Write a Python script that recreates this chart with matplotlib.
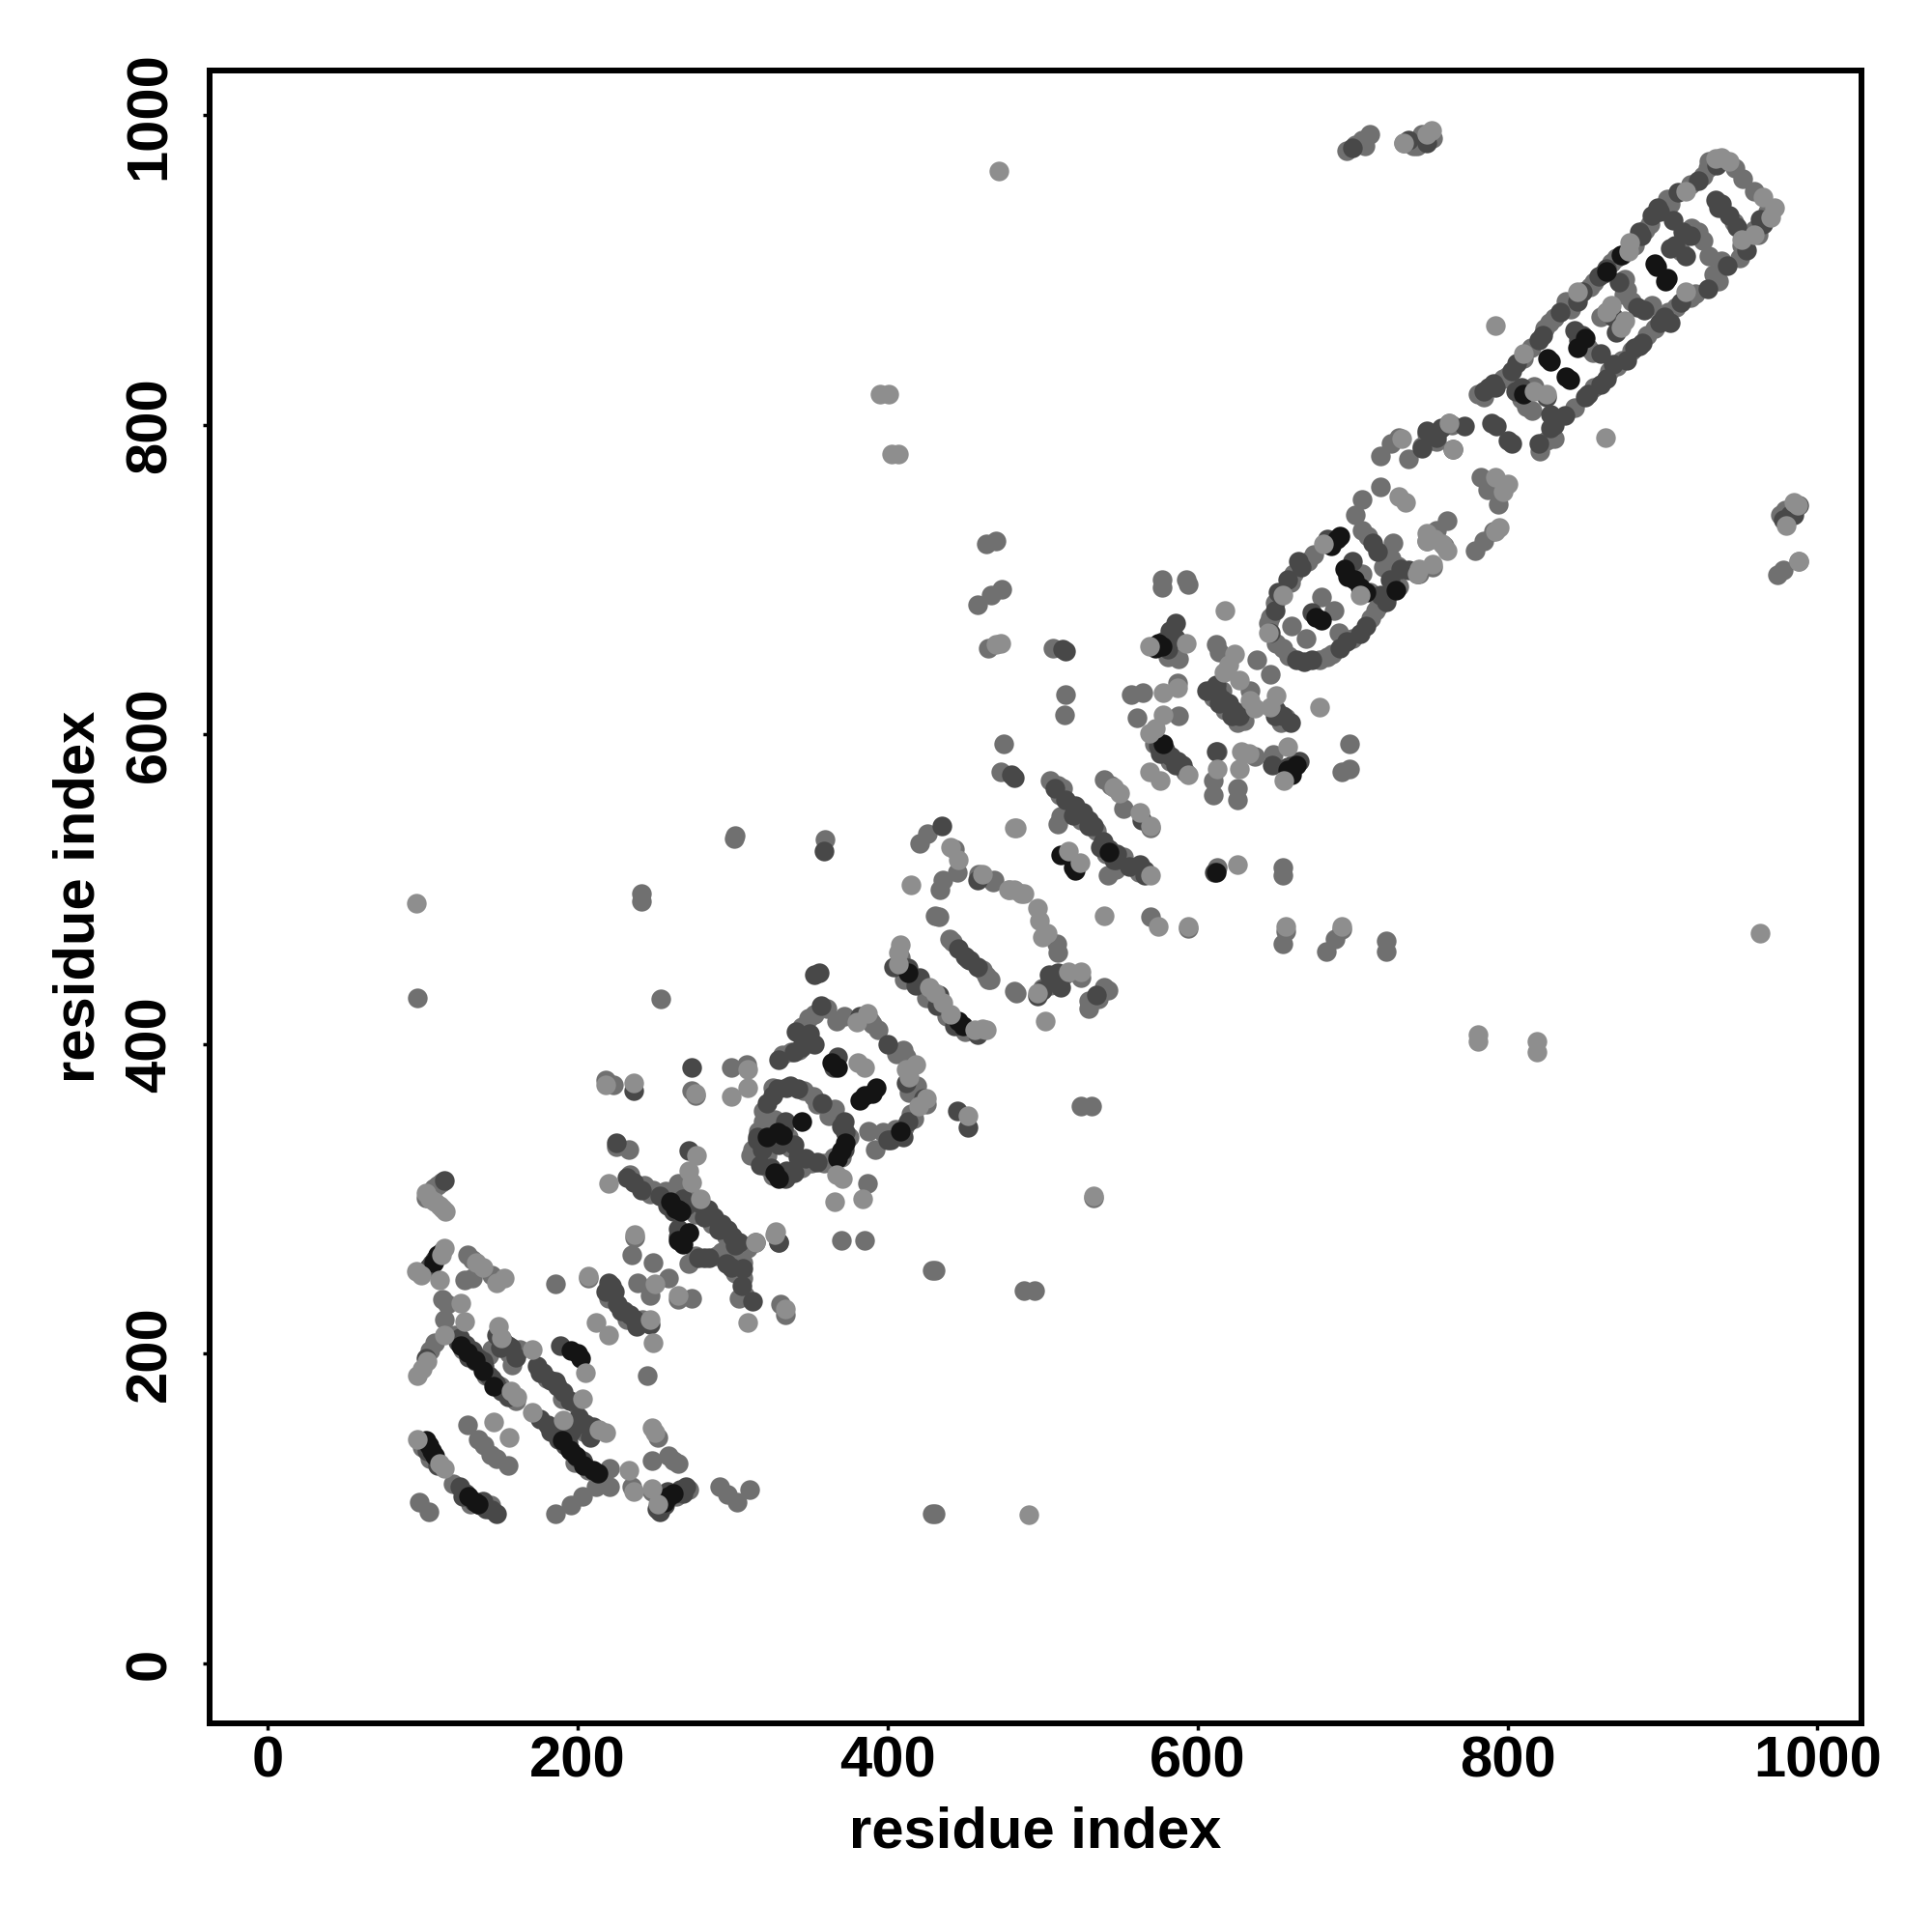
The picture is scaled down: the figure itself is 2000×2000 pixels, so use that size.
import numpy as np
import matplotlib
matplotlib.use('Agg')
import matplotlib.pyplot as plt

# contacts, grouped by grey level
contacts_mid = [
    (112,311),(110,309),(107,307),(104,304),(102,301),(129,264),(132,261),(127,248),(132,249),(145,251),
    (113,235),(116,232),(114,222),(108,207),(105,202),(121,212),(145,203),(143,199),(158,193),(129,154),
    (136,145),(140,141),(144,135),(148,132),(155,128),(98,104),(104,98),(186,97),(196,102),(203,108),
    (212,114),(221,114),(221,126),(235,114),(248,111),(252,146),(259,134),(262,131),(265,129),(248,131),
    (292,114),(297,109),(303,104),(311,112),(186,245),(207,249),(239,246),(249,259),(259,249),(247,238),
    (220,236),(265,235),(237,275),(235,264),(274,236),(245,186),(334,225),(331,232),(225,334),(233,332),
    (249,306),(243,309),(257,305),(265,310),(259,299),(272,278),(276,263),(293,266),(299,261),(307,259),
    (307,249),(308,238),(302,535),(301,533),(360,532),(241,497),(241,492),(254,429),(97,430),(426,536),
    (421,530),(443,526),(445,511),(436,506),(434,500),(433,482),(431,483),(482,434),(469,506),(442,466),
    (461,448),(466,442),(353,419),(361,423),(367,415),(345,411),(343,396),(332,393),(394,409),(390,413),
    (406,394),(412,392),(414,369),(425,361),(415,355),(411,346),(397,343),(388,344),(392,332),(309,387),
    (299,385),(274,370),(276,367),(223,374),(218,377),(352,366),(355,361),(362,354),(370,327),(359,323),
    (351,323),(322,321),(313,332),(317,344),(320,357),(327,351),(336,340),(322,328),(387,310),(370,273),
    (385,273),(464,723),(470,725),(474,694),(467,690),(458,684),(465,656),(507,656),(515,626),(514,613),
    (475,594),(473,576),(577,700),(577,695),(593,700),(594,697),(581,650),(588,649),(587,633),(557,626),
    (565,627),(588,612),(561,611),(613,589),(610,570),(610,561),(626,565),(626,558),(649,587),(637,586),
    (612,658),(614,653),(634,628),(638,648),(647,639),(630,609),(657,611),(698,594),(698,578),(693,576),
    (671,712),(662,704),(650,685),(647,676),(651,659),(659,651),(679,648),(687,652),(661,670),(670,662),
    (688,680),(691,666),(680,689),(717,683),(712,675),(725,714),(729,709),(743,704),(510,567),(513,565),
    (512,547),(510,542),(540,571),(544,567),(552,552),(570,540),(552,521),(542,509),(547,513),(613,514),
    (655,514),(655,509),(459,510),(468,505),(509,465),(510,459),(570,482),(594,475),(655,465),(657,473),
    (693,474),(689,468),(683,460),(722,467),(722,460),(465,442),(483,433),(504,440),(500,436),(525,443),
    (542,435),(536,429),(530,423),(733,982),(739,980),(696,977),(702,981),(706,984),(711,988),(742,980),
    (746,985),(781,820),(810,843),(824,862),(830,869),(841,875),(853,889),(870,908),(889,926),(905,943),
    (926,961),(930,970),(947,966),(952,959),(959,951),(959,926),(951,916),(938,906),(933,897),(918,882),
    (909,876),(895,862),(874,842),(866,835),(919,927),(926,919),(930,909),(876,894),(877,887),(893,877),
    (855,847),(817,825),(809,817),(816,809),(843,811),(830,791),(821,783),(762,801),(748,794),(754,789),
    (783,766),(787,758),(794,749),(791,731),(785,725),(779,719),(759,722),(752,708),(742,704),(988,712),
    (978,706),(974,703),(979,745),(718,780),(725,788),(730,792),(726,724),(706,732),(710,728),(702,742),
    (706,752),(718,760),(533,301),(429,254),(431,254),(429,97),(431,97),(495,241),(488,241),(525,360),
    (532,360),(711,692),(754,732),(761,738),(748,725),(736,778),(745,786),
    (785,818),(800,832),(815,850),(827,866),(838,880),(856,892),(867,905),(882,916),(892,930),(903,946),
    (918,955),(929,966),(856,824),(871,838),(880,848),(890,858),(904,873),(921,885),(936,893),(950,908),
    (962,923),(968,938),(912,912),(923,925),(946,931),(875,884),(880,880),(860,870),(852,850),
    (646,672),(660,698),(675,716),(655,656),(684,650),(700,662),(715,680),(730,696),(706,704),(720,708),
    (312,328),(326,315),(345,320),(365,327),(375,340),(366,358),(346,370),(326,372),(320,350),(337,333),
    (405,345),(417,352),(419,373),(410,396),(389,415),(372,418),(349,417),(338,395),
    (126,203),(134,195),(141,186),(150,179),(160,170),(156,200),(163,203),(180,184),(190,171),(199,168),
    (190,148),(198,130),(207,125),(204,150),(100,140),(105,132),(120,116),(131,103),(144,102),(254,106),
    (264,108),(272,112),(234,316),(247,303),(262,302),(272,307),(276,290),(287,284),(296,276),(310,268),
    (272,258),(290,263),(302,252),(304,236),(222,236),(232,222),(242,222),
    (584,665),(572,594),(582,583),(592,576),(525,545),(535,538),(541,523),(549,517),(562,511),(505,570),
    (511,561),(408,456),(411,442),(425,430),(438,418),(450,408),(440,468),(452,455),(464,444),
    (610,624),(618,616),(626,608),(654,608),(616,628),(505,438),(514,445),(530,428),(540,437),
    (825,790),(812,812),(797,830),(750,790),(764,800),(983,745),(976,742),(745,988),(752,985),(708,980),
]
contacts_dark = [
    (114,312),(112,266),(110,263),(108,261),(106,258),(104,256),(102,197),(124,210),(128,206),(132,202),
    (136,197),(140,192),(143,186),(147,181),(151,176),(155,205),(148,212),(152,208),(157,204),(174,192),
    (178,188),(183,183),(187,179),(191,175),(189,205),(176,158),(181,154),(185,149),(188,145),(192,141),
    (196,137),(200,133),(204,129),(196,150),(201,159),(205,155),(210,153),(124,114),(128,110),(133,105),
    (137,102),(141,100),(145,99),(253,98),(256,102),(259,107),(263,110),(266,112),(270,114),(220,246),
    (224,240),(226,232),(230,228),(234,225),(237,222),(247,219),(225,336),(272,331),(232,314),(236,311),
    (258,296),(262,292),(279,297),(284,293),(288,288),(293,284),(297,280),(300,276),(304,272),(265,281),
    (265,276),(282,262),(299,256),(307,255),(313,234),(330,272),(356,446),(353,445),(359,525),(435,541),
    (413,449),(421,443),(433,432),(450,457),(453,454),(353,400),(350,407),(349,403),(345,405),(340,395),
    (330,390),(373,343),(365,385),(368,392),(335,372),(326,367),(329,371),(342,371),(370,347),(340,317),
    (335,318),(325,320),(319,332),(316,340),(333,345),(340,335),(342,327),(347,326),(402,338),(408,342),
    (413,350),(445,357),(452,346),(330,272),(315,272),(274,385),(236,370),(458,506),(582,667),(586,662),
    (581,655),(575,593),(579,590),(583,586),(587,583),(590,580),(648,580),(612,589),(616,623),(612,628),
    (620,620),(624,615),(627,612),(651,616),(655,612),(666,583),(662,581),(658,579),(647,666),(652,692),
    (658,700),(665,712),(669,647),(674,648),(696,660),(705,665),(718,690),(722,688),(713,724),(674,679),
    (521,554),(526,550),(530,545),(533,541),(539,531),(543,526),(548,523),(564,545),(563,516),(566,512),
    (547,519),(611,511),(482,572),(480,574),(513,655),(515,654),(504,445),(508,442),(512,437),(510,446),
    (788,824),(791,827),(803,835),(820,855),(845,880),(859,896),(864,901),(885,925),(893,935),(897,940),
    (908,916),(915,909),(934,945),(938,943),(943,935),(948,928),(965,930),(913,925),(907,932),(884,876),
    (887,853),(882,850),(901,870),(905,866),(864,873),(868,839),(860,826),(852,820),(848,858),(843,861),
    (860,846),(809,824),(825,818),(828,807),(828,798),(837,806),(790,801),(793,799),(800,790),(803,788),
    (748,796),(765,784),(988,748),(982,742),(978,739),(731,707),(736,706),(754,792),
    (792,824),(806,840),(823,858),(834,873),(848,886),(862,898),(874,910),(886,922),(898,938),(910,950),
    (923,958),(935,968),(850,818),(864,830),(877,842),(885,851),(898,866),(912,879),(929,888),(942,903),
    (954,913),(963,933),(905,914),(918,922),(936,940),(872,892),(888,874),(868,870),(870,860),(846,855),
    (650,680),(654,690),(667,708),(684,726),(664,648),(692,656),(709,670),(722,686),(700,712),(716,718),
    (724,700),(316,338),(318,322),(334,313),(355,324),(372,332),(372,350),(358,362),(337,373),(322,362),
    (330,335),(334,350),(400,338),(410,340),(423,365),(412,375),(400,400),(382,418),(357,425),(341,408),
    (345,398),(123,208),(130,198),(139,195),(145,184),(155,172),(150,204),(160,198),(176,188),(186,182),
    (195,170),(183,150),(194,143),(203,131),(197,152),(208,146),(103,137),(110,128),(126,108),(139,105),
    (148,97),(258,111),(268,110),(251,100),(241,306),(253,302),(268,300),(270,296),(282,288),(291,280),
    (302,270),(278,262),(285,262),(296,258),(306,244),(218,240),(228,228),(238,218),(222,244),
    (578,660),(586,672),(576,588),(586,580),(520,548),(530,541),(537,527),(546,519),(556,515),(566,509),
    (508,565),(515,558),(404,450),(418,438),(432,425),(443,412),(458,406),(446,462),(458,450),
    (606,628),(614,620),(622,612),(650,612),(660,608),(612,632),(500,435),(510,442),(497,431),(535,432),
    (830,800),(820,788),(805,822),(785,822),(757,798),(745,785),(772,799),(985,742),(736,984),(748,982),(700,979),
]
contacts_black = [
    (110,264),(107,259),(102,144),(104,141),(106,137),(108,134),(130,108),(134,104),(136,103),(256,104),
    (259,108),(262,110),(196,202),(200,200),(202,197),(125,205),(129,201),(134,196),(139,189),(146,179),
    (190,144),(195,138),(199,134),(204,128),(210,125),(213,123),(260,298),(263,294),(265,293),(267,292),
    (265,273),(268,271),(272,278),(413,446),(446,415),(449,412),(393,372),(390,368),(385,367),(382,364),
    (330,313),(327,317),(329,343),(332,341),(373,336),(370,331),(368,326),(345,350),(322,340),(408,344),
    (364,388),(368,385),(575,659),(573,656),(577,657),(578,594),(658,577),(661,574),(664,580),(612,511),
    (521,512),(520,514),(512,522),(543,524),(695,707),(692,728),(697,702),(701,700),(705,695),(709,692),
    (728,693),(680,674),(676,676),(690,726),(686,722),(895,904),(896,902),(903,895),(902,893),(828,841),
    (826,843),(840,829),(838,831),(864,899),(845,850),(850,856),(810,820),(873,910),
]
contacts_light = [
    (102,304),(105,300),(108,298),(111,296),(113,294),(115,292),(114,268),(112,264),(96,253),(99,251),
    (111,248),(135,259),(139,256),(148,246),(153,249),(125,233),(127,221),(114,212),(97,186),(100,190),
    (103,195),(149,218),(151,210),(171,203),(203,171),(171,162),(191,157),(218,149),(214,151),(146,156),
    (156,146),(97,145),(114,126),(111,129),(233,125),(236,111),(248,152),(250,149),(248,113),(252,103),
    (207,250),(212,220),(220,212),(249,207),(250,245),(247,222),(237,277),(265,238),(220,310),(277,328),
    (274,311),(272,318),(279,300),(315,272),(328,279),(310,220),(334,229),(161,172),(157,176),(205,188),
    (415,503),(483,540),(446,519),(441,527),(408,464),(407,459),(407,452),(427,437),(431,433),(436,427),
    (441,419),(456,409),(461,410),(464,409),(461,510),(478,500),(486,497),(482,500),(380,414),(387,420),
    (418,387),(414,379),(412,384),(425,365),(420,360),(452,354),(381,388),(385,385),(310,384),(299,366),
    (310,372),(218,374),(236,375),(371,313),(367,316),(384,300),(366,298),(327,277),(276,368),
    (473,659),(470,658),(593,659),(569,657),(587,630),(578,627),(578,613),(573,604),(569,601),(624,652),
    (627,635),(620,645),(617,640),(637,617),(634,622),(651,625),(647,618),(679,618),(613,578),(627,578),
    (628,589),(633,588),(656,570),(658,592),(569,576),(576,570),(594,574),(618,680),(646,666),(655,690),
    (681,723),(705,690),(743,707),(758,723),(752,710),(748,725),(540,483),(517,525),(524,517),(570,509),
    (550,562),(546,566),(563,550),(570,541),(626,516),(479,500),(488,497),(497,488),(498,480),(500,469),
    (503,472),(575,476),(594,476),(657,476),(693,476),(502,415),(533,302),(517,447),(525,447),(497,433),
    (748,988),(751,990),(733,982),(792,864),(863,792),(472,964),(395,820),(401,820),(403,781),(407,781),
    (781,406),(781,402),(819,402),(819,395),(963,472),(96,491),(491,96),(482,540),(810,846),(845,886),
    (879,918),(878,912),(915,951),(938,973),(934,972),(943,970),(965,947),(972,940),(970,934),(959,923),
    (951,920),(915,886),(873,863),(876,867),(864,873),(867,877),(817,822),(825,820),(792,766),(800,762),
    (797,757),(762,801),(765,784),(732,791),(987,748),(985,750),(980,735),(988,712),(792,731),(795,734),
    (748,730),(753,726),(761,719),(730,754),(734,750),(742,704),
]
tick_values = [0, 200, 400, 600, 800, 1000]
axis_label = 'residue index'

shades = [
    (contacts_mid, '#707070'),
    (contacts_dark, '#484848'),
    (contacts_black, '#141414'),
    (contacts_light, '#8e8e8e'),
]

plt.rcParams['font.family'] = ['Liberation Sans', 'DejaVu Sans']
plt.rcParams['font.weight'] = 'bold'

fig = plt.figure(figsize=(20, 20), dpi=100)
ax = fig.add_axes([216.5 / 2000, 1 - 1783.5 / 2000, 1710.5 / 2000, 1710.5 / 2000])

for pts, col in shades:
    arr = np.array(pts)
    ax.scatter(arr[:, 0], arr[:, 1], s=215, c=col, linewidths=0, zorder=2)

ax.set_xlim(-37.6, 1028.4)
ax.set_ylim(-38.4, 1028.9)
ax.set_xticks(tick_values)
ax.set_yticks(tick_values)
ax.tick_params(axis='both', length=5, width=2.5, labelsize=43)
ax.tick_params(axis='x', pad=4)
ax.tick_params(axis='y', pad=19)
for lab in ax.get_yticklabels():
    lab.set_rotation(90)
    lab.set_va('center')
for s in ax.spines.values():
    s.set_linewidth(4.3)

ax.set_xlabel(axis_label, fontsize=43, fontweight='bold')
ax.set_ylabel(axis_label, fontsize=43, fontweight='bold')
ax.xaxis.set_label_coords(0.5, -0.05)
ax.yaxis.set_label_coords(-0.0625, 0.5)

fig.savefig('out.png', dpi=100, facecolor='white')
